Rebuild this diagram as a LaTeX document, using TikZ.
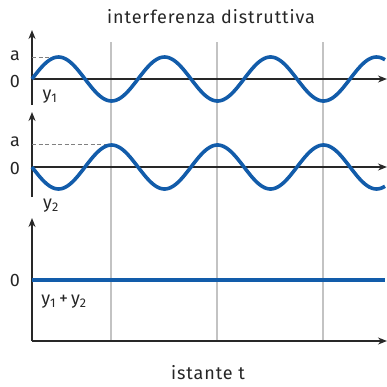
\documentclass[tikz,border=0pt]{standalone}
\usepackage{fontspec}
\setmainfont{Fira Sans}[LetterSpace=5]
\usetikzlibrary{arrows.meta}
\definecolor{wave}{RGB}{18,92,170}
\definecolor{axisc}{RGB}{40,40,40}
\definecolor{gridc}{RGB}{195,195,195}
\tikzset{
  axisline/.style={draw=axisc,line width=1.6bp},
  axisarrow/.style={axisline,-{Stealth[length=9bp,width=7bp]}},
  gridline/.style={draw=gridc,line width=1.3bp},
  waveline/.style={draw=wave,line width=3.6bp},
  dashline/.style={draw=gray,line width=0.9bp,dash pattern=on 4bp off 2.5bp},
  lbl/.style={font=\fontsize{18bp}{20bp}\selectfont,inner sep=0pt,text=black!85},
}
\begin{document}
\begin{tikzpicture}[x=1bp,y=-1bp]
\useasboundingbox (0,0) rectangle (387,387);
% grid lines
\foreach \gx in {111,217,323}{
  \draw[gridline] (\gx,42) -- (\gx,341);
}
% panel 1
\draw[axisarrow] (32,105) -- (32,30);
\draw[axisarrow] (32,79) -- (387,79);
\draw[dashline] (32,57) -- (58.5,57);
\draw[waveline,domain=32:385,samples=200,smooth] plot (\x,{79-22*sin((\x-32)/106*360)});
\node[lbl] (a1) at (15,56) {a};
\node[lbl] (z1) at (15,81) {0};
\node[lbl] (y1) at (50,97) {y\textsubscript{1}};
% panel 2
\draw[axisarrow] (32,197) -- (32,112);
\draw[axisarrow] (32,167) -- (387,167);
\draw[dashline] (32,144) -- (111,144);
\draw[waveline,domain=32:385,samples=200,smooth] plot (\x,{167+22*sin((\x-32)/106*360)});
\node[lbl] (a2) at (15,142) {a};
\node[lbl] (z2) at (15,168) {0};
\node[lbl] (y2) at (51,206) {y\textsubscript{2}};
% panel 3
\draw[axisarrow] (32,341) -- (32,218);
\draw[axisarrow] (32,341) -- (387,341);
\draw[waveline] (32,280) -- (385,280);
\node[lbl] (z3) at (15,280) {0};
\node[lbl] (y3) at (64,302) {y\textsubscript{1}\,+\,y\textsubscript{2}};
% titles
\node[lbl] (title) at (211,17) {interferenza distruttiva};
\node[lbl] (xlab) at (208,373) {istante t};
\end{tikzpicture}
\end{document}
